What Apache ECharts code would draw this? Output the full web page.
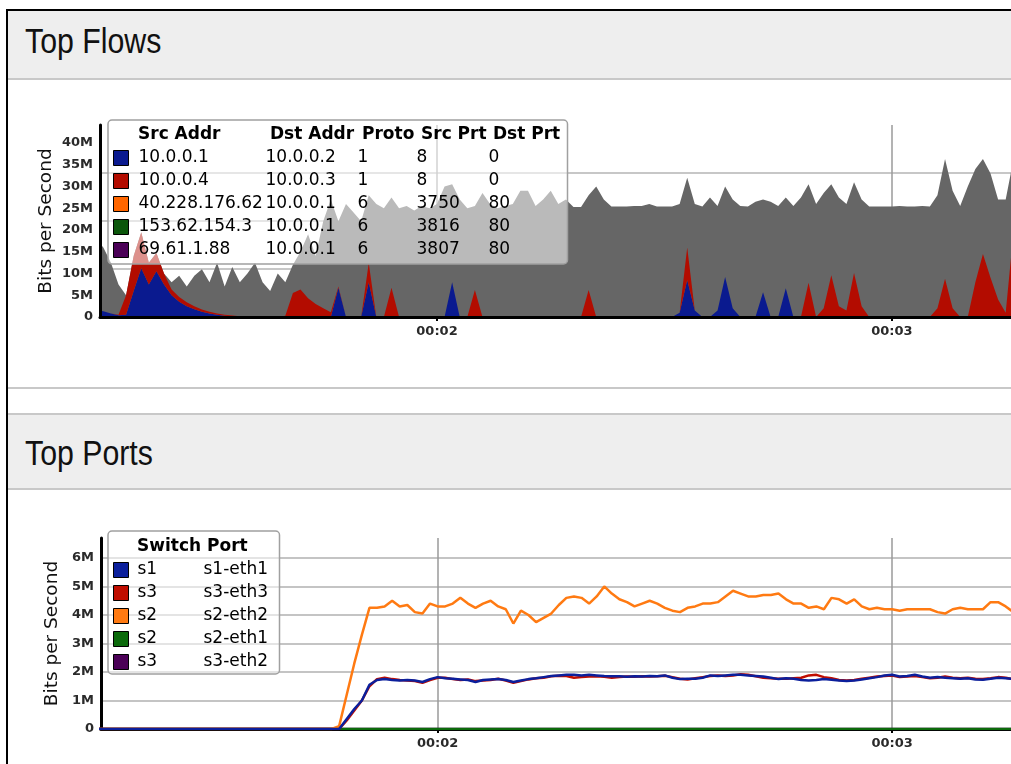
<!DOCTYPE html>
<html>
<head>
<meta charset="utf-8">
<title>Top Flows / Top Ports</title>
<script src="https://cdn.jsdelivr.net/npm/echarts@6/dist/echarts.min.js"></script>
<style>
  html, body { margin: 0; padding: 0; background: #fff; width: 1011px; height: 764px; overflow: hidden; }
  #frame { position: absolute; left: 6px; top: 9px; width: 1020px; height: 770px; border-left: 2px solid #000; border-top: 2px solid #000; }
  .head { position: absolute; left: 8px; width: 1010px; background: #eee; border-bottom: 2px solid #c8c8c8; }
  .head span { position: absolute; left: 17px; font-family: "Liberation Sans", Arial, sans-serif; font-size: 35px; line-height: 35px;
               color: #111; transform: scaleX(0.865); transform-origin: 0 0; white-space: nowrap; }
  .rule { position: absolute; left: 8px; width: 1010px; height: 2px; background: #c8c8c8; }
  #flows { position: absolute; left: 0; top: 80px; width: 1011px; height: 307px; }
  #ports { position: absolute; left: 0; top: 490px; width: 1011px; height: 274px; }
</style>
</head>
<body>
<div id="frame"></div>
<div class="head" style="top:11px;height:67px"><span style="top:12px">Top Flows</span></div>
<div class="rule" style="top:387px"></div>
<div class="rule" style="top:413px"></div>
<div class="head" style="top:415px;height:73px"><span style="top:20px">Top Ports</span></div>
<div id="flows"></div>
<div id="ports"></div>
<script>
// one sample per second, first sample at 00:01:15
var firstSecond = 75;
var axisMin = 75.56, axisMax = 195.7;
var timeTicks = [120, 180];

// ---- Top Flows (Mbit/s) ----
var flowCols = ['Src Addr', 'Dst Addr', 'Proto', 'Src Prt', 'Dst Prt'];
var srcAddr = ['10.0.0.1', '10.0.0.4', '40.228.176.62', '153.62.154.3', '69.61.1.88'];
var dstAddr = ['10.0.0.2', '10.0.0.3', '10.0.0.1', '10.0.0.1', '10.0.0.1'];
var proto   = ['1', '1', '6', '6', '6'];
var srcPort = ['8', '8', '3750', '3816', '3807'];
var dstPort = ['0', '0', '80', '80', '80'];
var flowColors = ['#0a1a8f', '#b30c00', '#ff6600', '#0b560b', '#4b0057'];

var flowTotal = [
  18, 16, 12.5, 7.5, 5, 14, 19.5, 12.5, 14.7, 10,
  8, 9.5, 7, 9.5, 11, 8, 12.5, 7, 11.5, 8,
  10, 12.5, 8, 6, 10, 8, 12, 15, 19, 14,
  22, 27, 22, 26, 24, 22, 28, 26, 25, 27.5,
  25, 25.5, 24.5, 25.5, 25, 26, 30, 30.5, 27, 25,
  25.5, 28.5, 26, 25, 25.5, 26, 29, 29, 25.5, 27,
  29, 26, 27, 25.3, 25.3, 28, 30, 27, 25.4, 25.4,
  25.4, 25.5, 25.5, 26, 25.4, 25.4, 25.4, 26, 32, 26,
  25.4, 27.5, 25.5, 30, 27, 25.5, 25.4, 26.5, 27, 26.5,
  25.5, 27.5, 25.5, 27.5, 30.5, 26, 28.5, 30.5, 27.5, 26,
  31, 27, 25.4, 25.4, 25.4, 25.4, 25.5, 25.4, 25.4, 25.5,
  25.4, 28, 36.3, 29, 25.5, 30, 34, 36.3, 33, 27,
  27, 36
];
var flowBlue = [
  1.6, 1.3, 0.8, 0.4, 0.5, 6, 11.2, 7.5, 10.5, 7.5,
  5, 3.5, 2.5, 1.8, 1.2, 0.8, 0.5, 0.3, 0.2, 0.1,
  0, 0, 0, 0, 0, 0, 0, 0, 0, 0,
  0, 0, 6.7, 0, 0, 0, 8, 0, 0, 0,
  0, 0, 0, 0, 0, 0, 0, 8, 0, 0,
  0, 0, 0, 0, 0, 0, 0, 0, 0, 0,
  0, 0, 0, 0, 0, 0, 0, 0, 0, 0,
  0, 0, 0, 0, 0, 0, 0, 1, 8.5, 1.5,
  0, 0, 1.5, 9.2, 2, 0, 0, 0, 5.7, 0,
  0, 6.6, 0, 0, 0, 0, 0, 0, 0, 0,
  0, 0, 0, 0, 0, 0, 0, 0, 0, 0,
  0, 0, 0, 0, 0, 0, 0, 0, 0, 0,
  0, 0
];
var flowRed = [
  0, 0, 0, 0.1, 4.5, 8, 8.3, 5, 4.2, 2.5,
  1.3, 1.1, 0.9, 0.7, 0.5, 0.4, 0.3, 0.2, 0.15, 0.1,
  0, 0, 0, 0, 0, 0.3, 5.5, 6.3, 4.3, 3,
  2, 1.1, 0.3, 0, 0, 0, 4.4, 0, 0, 6.7,
  0, 0, 0, 0, 0, 0, 0, 0, 0, 0,
  6.2, 0, 0, 0, 0, 0, 0, 0, 0, 0,
  0, 0, 0, 0, 0, 6.2, 0, 0, 0, 0,
  0, 0, 0, 0, 0, 0, 0, 0, 7.5, 0,
  0, 0, 0, 0, 0, 0, 0, 0, 0, 0,
  0, 0, 0, 0, 7.9, 0, 2, 9.6, 2.5, 1.5,
  10.1, 2.5, 0, 0, 0, 0, 0, 0, 0, 0,
  0, 2, 8.8, 2, 0, 0, 8, 14.5, 9, 4,
  1, 19
];
// the three TCP flows carry no visible traffic in this window
var flowOrange = [];
var flowGreen = [];
var flowPurple = [];

// ---- Top Ports (Mbit/s) ----
var switchName = ['s1', 's3', 's2', 's2', 's3'];
var portName = ['s1-eth1', 's3-eth3', 's2-eth2', 's2-eth1', 's3-eth2'];
var portColors = ['#0b1f9c', '#c00d00', '#ff7a12', '#0b6a0b', '#4b0057'];

var portBlue = [
  0, 0, 0, 0, 0, 0, 0, 0, 0, 0,
  0, 0, 0, 0, 0, 0, 0, 0, 0, 0,
  0, 0, 0, 0, 0, 0, 0, 0, 0, 0,
  0, 0, 0, 0.35, 0.7, 1.0, 1.55, 1.72, 1.75, 1.72,
  1.7, 1.72, 1.7, 1.65, 1.75, 1.82, 1.78, 1.76, 1.74, 1.72,
  1.65, 1.72, 1.74, 1.75, 1.72, 1.65, 1.7, 1.75, 1.78, 1.82,
  1.86, 1.88, 1.9, 1.9, 1.88, 1.9, 1.88, 1.86, 1.85, 1.85,
  1.83, 1.85, 1.84, 1.86, 1.85, 1.88, 1.8, 1.75, 1.76, 1.76,
  1.8, 1.88, 1.86, 1.88, 1.9, 1.9, 1.88, 1.86, 1.84, 1.8,
  1.75, 1.78, 1.76, 1.72, 1.7, 1.72, 1.75, 1.73, 1.7, 1.68,
  1.7, 1.74, 1.78, 1.82, 1.88, 1.9, 1.84, 1.86, 1.9, 1.84,
  1.8, 1.82, 1.8, 1.78, 1.76, 1.78, 1.74, 1.73, 1.76, 1.8,
  1.78, 1.76
];
var portRed = [
  0, 0, 0, 0, 0, 0, 0, 0, 0, 0,
  0, 0, 0, 0, 0, 0, 0, 0, 0, 0,
  0, 0, 0, 0, 0, 0, 0, 0, 0, 0,
  0, 0, 0, 0.3, 0.65, 1.0, 1.5, 1.75, 1.8, 1.75,
  1.72, 1.7, 1.68, 1.62, 1.72, 1.8, 1.8, 1.75, 1.72, 1.74,
  1.68, 1.7, 1.72, 1.76, 1.7, 1.62, 1.68, 1.74, 1.78, 1.8,
  1.85, 1.87, 1.86, 1.8, 1.82, 1.84, 1.85, 1.83, 1.8, 1.82,
  1.84, 1.83, 1.85, 1.84, 1.85, 1.87, 1.82, 1.76, 1.74, 1.78,
  1.82, 1.86, 1.88, 1.86, 1.88, 1.92, 1.9, 1.85, 1.8, 1.78,
  1.76, 1.76, 1.78, 1.8, 1.88, 1.9, 1.82, 1.78, 1.72, 1.7,
  1.72, 1.76, 1.8, 1.84, 1.86, 1.88, 1.82, 1.84, 1.86, 1.82,
  1.78, 1.8, 1.84, 1.8, 1.78, 1.8, 1.76, 1.75, 1.78, 1.82,
  1.8, 1.75
];
var portOrange = [
  0, 0, 0, 0, 0, 0, 0, 0, 0, 0,
  0, 0, 0, 0, 0, 0, 0, 0, 0, 0,
  0, 0, 0, 0, 0, 0, 0, 0, 0, 0,
  0, 0, 0.1, 1.2, 2.3, 3.3, 4.25, 4.25, 4.3, 4.5,
  4.3, 4.35, 4.1, 4.05, 4.4, 4.3, 4.3, 4.4, 4.6, 4.4,
  4.25, 4.4, 4.5, 4.3, 4.2, 3.7, 4.15, 4.0, 3.75, 3.9,
  4.05, 4.35, 4.6, 4.65, 4.6, 4.4, 4.65, 5.0, 4.75, 4.55,
  4.45, 4.3, 4.4, 4.5, 4.4, 4.25, 4.15, 4.1, 4.25, 4.3,
  4.4, 4.4, 4.45, 4.65, 4.85, 4.75, 4.65, 4.65, 4.7, 4.7,
  4.75, 4.55, 4.4, 4.4, 4.25, 4.3, 4.2, 4.6, 4.55, 4.4,
  4.55, 4.3, 4.2, 4.25, 4.2, 4.2, 4.15, 4.2, 4.2, 4.2,
  4.2, 4.1, 4.05, 4.2, 4.25, 4.2, 4.2, 4.2, 4.45, 4.45,
  4.3, 4.1
];
var portGreen = [
  0, 0, 0, 0, 0, 0, 0, 0, 0, 0,  0, 0, 0, 0, 0, 0, 0, 0, 0, 0,
  0, 0, 0, 0, 0, 0, 0, 0, 0, 0,  0, 0, 0, 0, 0, 0, 0, 0, 0, 0,
  0, 0, 0, 0, 0, 0, 0, 0, 0, 0,  0, 0, 0, 0, 0, 0, 0, 0, 0, 0,
  0, 0, 0, 0, 0, 0, 0, 0, 0, 0,  0, 0, 0, 0, 0, 0, 0, 0, 0, 0,
  0, 0, 0, 0, 0, 0, 0, 0, 0, 0,  0, 0, 0, 0, 0, 0, 0, 0, 0, 0,
  0, 0, 0, 0, 0, 0, 0, 0, 0, 0,  0, 0, 0, 0, 0, 0, 0, 0, 0, 0,
  0, 0
];
var portPurple = portGreen.slice(); // s3-eth2 idle as well

// rows are [value, second]; value first so that a stack adds up the y values
function rows(values) {
  return values.map(function (v, i) { return [v, firstSecond + i]; });
}
var byTime = { x: 1, y: 0 };
function pad(n) { return (n < 10 ? '0' : '') + n; }
function clock(t) {
  var m = Math.round(t / 60);
  return pad(Math.floor(m / 60)) + ':' + pad(m % 60);
}
function mega(v) { return v === 0 ? '0' : v + 'M'; }

var FONT = 'DejaVu Sans';
var tickFont = { fontFamily: FONT, fontSize: 13, fontWeight: 'bold', color: '#2a2a2a' };
var nameFont = { fontFamily: FONT, fontSize: 18.5, color: '#111' };

// ================= Top Flows =================
var flowChart = echarts.init(document.getElementById('flows'));
var flowWidths = [127, 92, 59, 72, 72];
var flowColX = [138];
for (var c = 1; c < flowCols.length; c++) flowColX.push(flowColX[c - 1] + (c === 1 ? 132 : flowWidths[c - 1]));

var flowSeriesData = [flowBlue, flowRed, flowOrange, flowGreen, flowPurple];
var flowSeries = [{
  name: 'other', type: 'line', data: rows(flowTotal), encode: byTime, showSymbol: false, silent: true,
  lineStyle: { width: 0 }, itemStyle: { color: '#666' }, areaStyle: { color: '#666', opacity: 1 }
}];
srcAddr.forEach(function (s, i) {
  flowSeries.push({
    name: s, type: 'line', stack: 'flows', data: rows(flowSeriesData[i]), encode: byTime, showSymbol: false, silent: true,
    lineStyle: { width: 0 }, itemStyle: { color: flowColors[i] }, areaStyle: { color: flowColors[i], opacity: 1 }
  });
});

flowChart.setOption({
  animation: false,
  textStyle: { fontFamily: FONT },
  grid: { left: 100, right: 0, top: 45, bottom: 70 },
  xAxis: [{
    type: 'value', min: axisMin, max: axisMax, z: 10,
    axisLine: { lineStyle: { color: '#000', width: 3 } },
    axisTick: { customValues: timeTicks, length: 4, lineStyle: { color: '#000', width: 2 } },
    axisLabel: Object.assign({ customValues: timeTicks, formatter: clock, margin: 8 }, tickFont),
    splitLine: { show: false }
  }, {
    type: 'value', min: axisMin, max: axisMax, position: 'bottom',
    axisLine: { show: false }, axisTick: { show: false, customValues: timeTicks },
    axisLabel: { show: false, customValues: timeTicks },
    splitLine: { show: true, lineStyle: { color: '#9a9a9a', width: 1.5 } }
  }],
  yAxis: [{
    type: 'value', min: 0, max: 44.14, interval: 5, z: 10,
    name: 'Bits per Second', nameLocation: 'middle', nameGap: 44, nameRotate: 90, nameMoveOverlap: false,
    nameTextStyle: nameFont,
    axisLine: { show: true, lineStyle: { color: '#000', width: 3 } },
    axisTick: { show: false },
    axisLabel: Object.assign({ formatter: mega, showMaxLabel: false, margin: 7 }, tickFont),
    splitLine: { show: false }
  }, {
    type: 'value', min: 0, max: 4, interval: 1, position: 'left',
    axisLine: { show: false }, axisTick: { show: false }, axisLabel: { show: false },
    splitLine: { show: true, showMaxLine: false, lineStyle: { color: '#b4b4b4', width: 1.5 } }
  }],
  legend: {
    data: srcAddr, orient: 'vertical', left: 108, top: 40,
    icon: 'rect', itemWidth: 15, itemHeight: 15, itemGap: 5,
    padding: [29, 7, 5, 5],
    backgroundColor: 'rgba(255,255,255,0.55)', borderColor: '#a0a0a0', borderWidth: 1.5, borderRadius: 4,
    selectedMode: false,
    itemStyle: { borderColor: '#000', borderWidth: 1 },
    formatter: function (name) {
      var i = srcAddr.indexOf(name);
      return '{a|' + srcAddr[i] + '}{b|' + dstAddr[i] + '}{c|' + proto[i] + '}{d|' + srcPort[i] + '}{e|' + dstPort[i] + '}';
    },
    textStyle: {
      fontFamily: FONT, fontSize: 17, color: '#000', lineHeight: 18,
      rich: {
        a: { width: flowWidths[0], padding: [0, 0, 0, 5], fontFamily: FONT, fontSize: 17, color: '#000' },
        b: { width: flowWidths[1], fontFamily: FONT, fontSize: 17, color: '#000' },
        c: { width: flowWidths[2], fontFamily: FONT, fontSize: 17, color: '#000' },
        d: { width: flowWidths[3], fontFamily: FONT, fontSize: 17, color: '#000' },
        e: { width: flowWidths[4], fontFamily: FONT, fontSize: 17, color: '#000' }
      }
    }
  },
  graphic: flowCols.map(function (label, i) {
    return {
      type: 'text', left: flowColX[i], top: 46, z: 100, silent: true,
      style: { text: label, fontFamily: FONT, fontSize: 17, fontWeight: 'bold', fill: '#000' }
    };
  }),
  series: flowSeries
});

// ================= Top Ports =================
var portChart = echarts.init(document.getElementById('ports'));
var portKeys = switchName.map(function (s, i) { return s + ' ' + portName[i]; });
var portSeriesData = [portBlue, portRed, portOrange, portGreen, portPurple];
// drawing order: purple, green, red, orange, blue on top
var drawOrder = [4, 3, 1, 2, 0];

portChart.setOption({
  animation: false,
  textStyle: { fontFamily: FONT },
  grid: { left: 101, right: 0, top: 48, bottom: 35 },
  xAxis: {
    type: 'value', min: axisMin, max: axisMax,
    axisLine: { lineStyle: { color: '#000', width: 3 } },
    axisTick: { customValues: timeTicks, length: 4, lineStyle: { color: '#000', width: 2 } },
    axisLabel: Object.assign({ customValues: timeTicks, formatter: clock, margin: 8 }, tickFont),
    splitLine: { show: true, lineStyle: { color: '#9a9a9a', width: 1.5 } }
  },
  yAxis: {
    type: 'value', min: 0, max: 6.7, interval: 1,
    name: 'Bits per Second', nameLocation: 'middle', nameGap: 39, nameRotate: 90, nameMoveOverlap: false,
    nameTextStyle: nameFont,
    axisLine: { show: true, lineStyle: { color: '#000', width: 3 } },
    axisTick: { show: false },
    axisLabel: Object.assign({ formatter: mega, showMaxLabel: false, margin: 7 }, tickFont),
    splitLine: { show: true, showMaxLine: false, lineStyle: { color: '#c4c4c4', width: 2 } }
  },
  legend: {
    data: portKeys, orient: 'vertical', left: 108, top: 41,
    icon: 'rect', itemWidth: 15, itemHeight: 15, itemGap: 5,
    padding: [30, 7, 3, 5],
    backgroundColor: 'rgba(255,255,255,0.55)', borderColor: '#a0a0a0', borderWidth: 1.5, borderRadius: 4,
    selectedMode: false,
    itemStyle: { borderColor: '#000', borderWidth: 1 },
    formatter: function (name) {
      var i = portKeys.indexOf(name);
      return '{a|' + switchName[i] + '}{b|' + portName[i] + '}';
    },
    textStyle: {
      fontFamily: FONT, fontSize: 17, color: '#000', lineHeight: 18,
      rich: {
        a: { width: 66, padding: [0, 0, 0, 4], fontFamily: FONT, fontSize: 17, color: '#000' },
        b: { width: 69, fontFamily: FONT, fontSize: 17, color: '#000' }
      }
    }
  },
  graphic: [{
    type: 'text', left: 137, top: 48, z: 100, silent: true,
    style: { text: 'Switch Port', fontFamily: FONT, fontSize: 17, fontWeight: 'bold', fill: '#000' }
  }],
  series: drawOrder.map(function (i) {
    return {
      name: portKeys[i], type: 'line', data: rows(portSeriesData[i]), encode: byTime, showSymbol: false, silent: true,
      lineStyle: { width: 2.5, color: portColors[i] }, itemStyle: { color: portColors[i] }
    };
  })
});
</script>
</body>
</html>
